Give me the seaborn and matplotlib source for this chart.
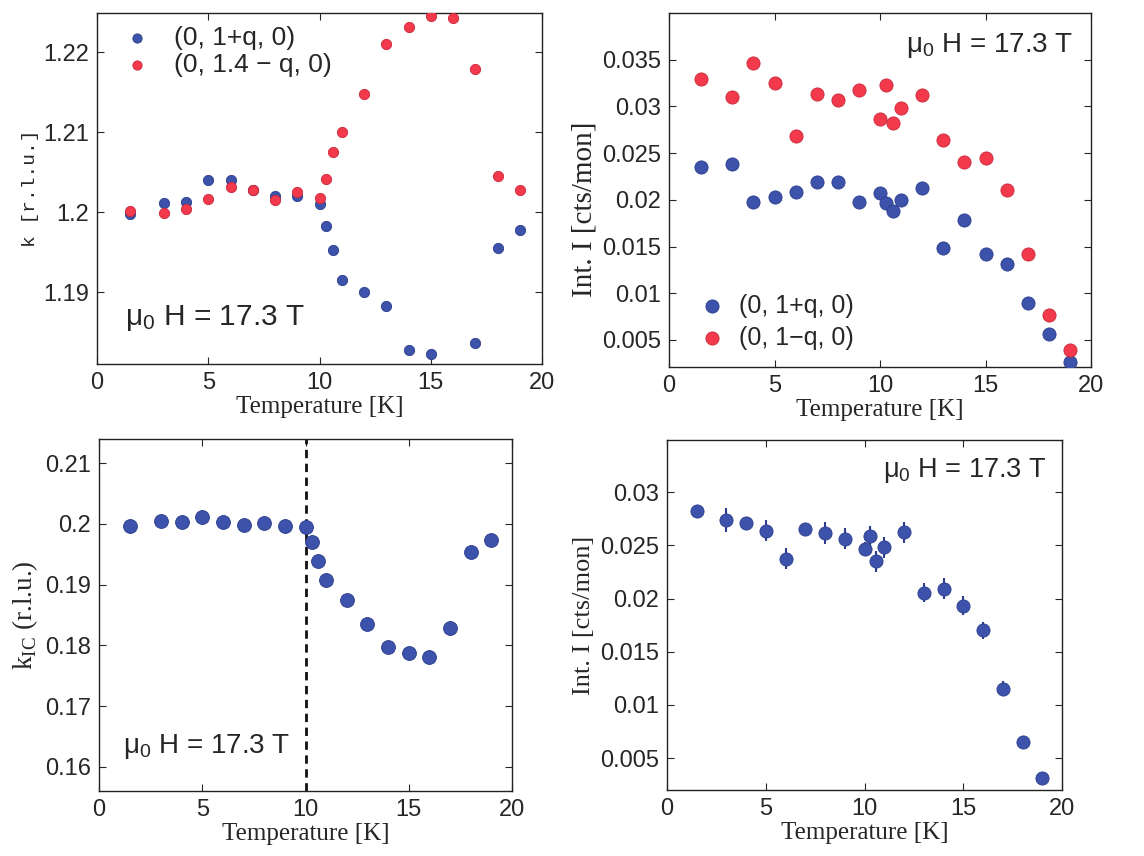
import numpy as np
import pandas as pd
import matplotlib
matplotlib.use('Agg')
import matplotlib.pyplot as plt
import seaborn as sns

# top left: peak position k vs T
T_k_blue = [1.5, 3, 4, 5, 6, 7, 8, 9, 10, 10.3, 10.6, 11, 12, 13, 14, 15, 17, 18, 19]
k_blue = [1.1997, 1.2011, 1.2012, 1.2040, 1.2040, 1.2028, 1.2020, 1.2020, 1.2010, 1.1983,
          1.1953, 1.1915, 1.1900, 1.1882, 1.1828, 1.1822, 1.1836, 1.1955, 1.1978]
T_k_red = [1.5, 3, 4, 5, 6, 7, 8, 9, 10, 10.3, 10.6, 11, 12, 13, 14, 15, 16, 17, 18, 19]
k_red = [1.2001, 1.1999, 1.2004, 1.2016, 1.2032, 1.2028, 1.2015, 1.2025, 1.2018, 1.2041,
         1.2075, 1.2100, 1.2148, 1.2210, 1.2231, 1.2245, 1.2243, 1.2179, 1.2045, 1.2028]

# top right: integrated intensity of both peaks
T_I = [1.5, 3, 4, 5, 6, 7, 8, 9, 10, 10.3, 10.6, 11, 12, 13, 14, 15, 16, 17, 18, 19]
I_blue = [0.02354, 0.02386, 0.01979, 0.02032, 0.02082, 0.02186, 0.02186, 0.01979, 0.02075, 0.01961,
          0.01882, 0.01996, 0.02129, 0.01479, 0.01779, 0.01421, 0.01311, 0.00896, 0.00561, 0.00264]
I_red = [0.03293, 0.03104, 0.03461, 0.03250, 0.02679, 0.03129, 0.03071, 0.03171, 0.02868, 0.03225,
         0.02818, 0.02979, 0.03118, 0.02636, 0.02400, 0.02446, 0.02107, 0.01421, 0.00771, 0.00389]
I_red_err = [0.0004, 0.0006, 0.0005, 0.0006, 0.0005, 0.0005, 0.0006, 0.0005, 0.0005, 0.0006,
             0.0006, 0.0005, 0.0005, 0.0005, 0.0005, 0.0005, 0.0004, 0.0004, 0.0003, 0.0003]

# bottom left: incommensurability
T_ic = [1.5, 3, 4, 5, 6, 7, 8, 9, 10, 10.3, 10.6, 11, 12, 13, 14, 15, 16, 17, 18, 19]
k_ic = [0.1997, 0.2005, 0.2004, 0.2011, 0.2003, 0.1999, 0.2002, 0.1997, 0.1995, 0.1970,
        0.1939, 0.1907, 0.1875, 0.1835, 0.1798, 0.1788, 0.1781, 0.1828, 0.1954, 0.1974]

# bottom right: total intensity
T_tot = [1.5, 3, 4, 5, 6, 7, 8, 9, 10, 10.3, 10.6, 11, 12, 13, 14, 15, 16, 17, 18, 19]
I_tot = [0.02818, 0.02739, 0.02711, 0.02639, 0.02373, 0.02655, 0.02617, 0.02564, 0.02467, 0.02586,
         0.02348, 0.02482, 0.02623, 0.02053, 0.02091, 0.01931, 0.01702, 0.01154, 0.00653, 0.00315]
I_tot_err = [0.0003, 0.0011, 0.0004, 0.0010, 0.0010, 0.0004, 0.0010, 0.0010, 0.0006, 0.0010,
             0.0010, 0.0010, 0.0010, 0.0009, 0.0010, 0.0009, 0.0008, 0.0007, 0.0004, 0.0003]

blue = '#3d52aa'
blue_edge = '#2c3d8c'
red = '#f23a4c'
red_edge = '#c9283a'

sns.set_style('ticks')
plt.rcParams['font.family'] = ['Liberation Sans', 'DejaVu Sans']
plt.rcParams['mathtext.fontset'] = 'custom'
plt.rcParams['mathtext.rm'] = 'Liberation Sans'
plt.rcParams['mathtext.it'] = 'Liberation Sans'

fig = plt.figure(figsize=(11.44, 8.56), dpi=100)
W, H = 1144, 856


def make_ax(l, r, t, b):
    return fig.add_axes([l / W, 1 - b / H, (r - l) / W, (b - t) / H])


def style(ax, ylim, yticks, ylabel, ylabel_size, ylabel_family='Liberation Serif'):
    ax.set_xlim(0, 20)
    ax.set_ylim(*ylim)
    ax.set_xticks([0, 5, 10, 15, 20])
    ax.set_yticks(yticks)
    ax.set_yticklabels([('%g' % v) for v in yticks])
    ax.tick_params(direction='in', top=True, right=True, labelsize=17, length=5, width=0.8, pad=6)
    for s in ax.spines.values():
        s.set_visible(True)
        s.set_linewidth(1.0)
        s.set_color('#222222')
    ax.set_xlabel('Temperature [K]', family='Liberation Serif', fontsize=18, labelpad=1)
    ax.set_ylabel(ylabel, family=ylabel_family, fontsize=ylabel_size, labelpad=3)


field = r'$\mathregular{\mu_0}$ H = 17.3 T'

# --- top left
ax1 = make_ax(97, 542, 13, 364)
df1b = pd.DataFrame({'T': T_k_blue, 'k': k_blue})
df1r = pd.DataFrame({'T': T_k_red, 'k': k_red})
sns.scatterplot(data=df1b, x='T', y='k', ax=ax1, color=blue, edgecolor=blue_edge, s=55,
                linewidth=0.6, label='(0, 1+q, 0)', zorder=3)
sns.scatterplot(data=df1r, x='T', y='k', ax=ax1, color=red, edgecolor=red_edge, s=55,
                linewidth=0.6, label='(0, 1.4 \u2212 q, 0)', zorder=4)
style(ax1, (1.181, 1.2249), [1.19, 1.2, 1.21, 1.22], 'k [r.l.u.]', 14, 'Liberation Mono')
ax1.legend(loc='upper left', frameon=False, fontsize=19, handletextpad=0.4,
           borderaxespad=0.1, labelspacing=0.1, markerscale=0.9, bbox_to_anchor=(0.0, 1.0))
ax1.text(0.063, 0.11, field, transform=ax1.transAxes, fontsize=21.5)

# --- top right
ax2 = make_ax(669, 1091, 13, 367)
ax2.errorbar(T_I, I_red, yerr=I_red_err, fmt='none', ecolor=red_edge, elinewidth=1.2, zorder=2)
df2b = pd.DataFrame({'T': T_I, 'I': I_blue})
df2r = pd.DataFrame({'T': T_I, 'I': I_red})
sns.scatterplot(data=df2b, x='T', y='I', ax=ax2, color=blue, edgecolor=blue_edge, s=90,
                linewidth=0.6, label='(0, 1+q, 0)', zorder=3)
sns.scatterplot(data=df2r, x='T', y='I', ax=ax2, color=red, edgecolor=red_edge, s=90,
                linewidth=0.6, label='(0, 1\u2212q, 0)', zorder=4)
style(ax2, (0.0021, 0.04), [0.005, 0.01, 0.015, 0.02, 0.025, 0.03, 0.035], 'Int. I [cts/mon]', 21)
ax2.yaxis.set_label_coords(-0.17, 0.445)
ax2.legend(loc='lower left', frameon=False, fontsize=18, handletextpad=0.1,
           borderaxespad=0.3, labelspacing=0.3, bbox_to_anchor=(0.0, 0.0))
ax2.text(0.957, 0.89, field, transform=ax2.transAxes, fontsize=20, ha='right')

# --- bottom left
ax3 = make_ax(99, 512, 439, 791)
ax3.axvline(10, color='#111111', ls=(0, (3, 2)), lw=2.0, zorder=2)
df3 = pd.DataFrame({'T': T_ic, 'k': k_ic})
sns.scatterplot(data=df3, x='T', y='k', ax=ax3, color=blue, edgecolor=blue_edge, s=100,
                linewidth=0.6, zorder=3)
style(ax3, (0.156, 0.214), [0.16, 0.17, 0.18, 0.19, 0.2, 0.21], r'k$_\mathregular{IC}$ (r.l.u.)', 19.5)
ax3.text(0.058, 0.108, field, transform=ax3.transAxes, fontsize=20)

# --- bottom right
ax4 = make_ax(667, 1062, 440, 790)
ax4.errorbar(T_tot, I_tot, yerr=I_tot_err, fmt='none', ecolor=blue_edge, elinewidth=1.5, zorder=2)
df4 = pd.DataFrame({'T': T_tot, 'I': I_tot})
sns.scatterplot(data=df4, x='T', y='I', ax=ax4, color=blue, edgecolor=blue_edge, s=90,
                linewidth=0.6, zorder=3)
style(ax4, (0.002, 0.0349), [0.005, 0.01, 0.015, 0.02, 0.025, 0.03], 'Int. I [cts/mon]', 19)
ax4.text(0.962, 0.894, field, transform=ax4.transAxes, fontsize=19.5, ha='right')

fig.savefig('out.png', dpi=100)
